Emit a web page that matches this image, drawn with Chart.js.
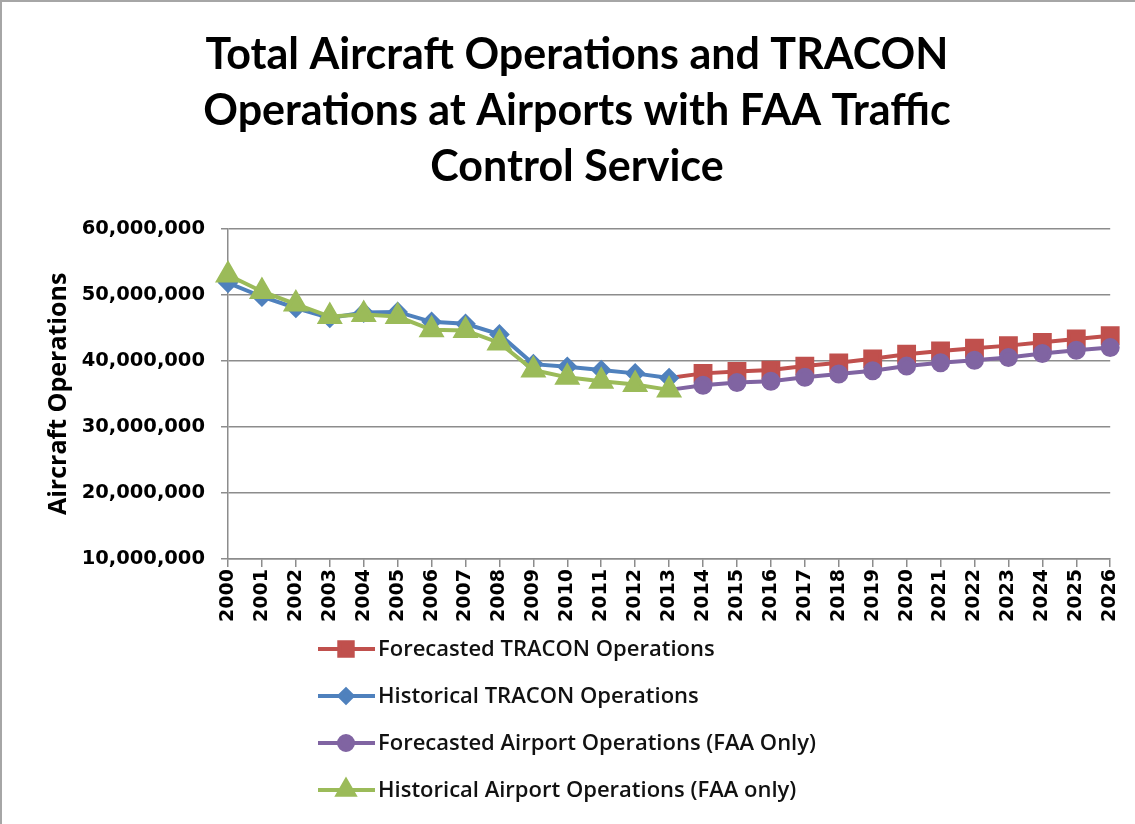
<!DOCTYPE html>
<html>
<head>
<meta charset="utf-8">
<script src="https://cdn.jsdelivr.net/npm/chart.js@4.4.1/dist/chart.umd.min.js"></script>
<style>
  html, body { margin: 0; padding: 0; background: #fff; }
  #wrap { width: 1135px; height: 824px; position: relative; box-sizing: border-box; border-top: 2px solid #a6a6a6; border-left: 2px solid #a6a6a6; }
  canvas { position: absolute; left: -2px; top: -2px; }
</style>
</head>
<body>
<div id="wrap"><canvas id="chart-ops" width="1135" height="824"></canvas></div>
<script>
/* data */
var years = ['2000','2001','2002','2003','2004','2005','2006','2007','2008','2009','2010','2011','2012','2013',
             '2014','2015','2016','2017','2018','2019','2020','2021','2022','2023','2024','2025','2026'];
var forecastTracon = [null,null,null,null,null,null,null,null,null,null,null,null,null,37400000,
                      38100000,38400000,38600000,39200000,39700000,40300000,41000000,41500000,41900000,42300000,42800000,43300000,43800000];
var historicalTracon = [51800000,49700000,48000000,46500000,47300000,47400000,45900000,45600000,44000000,39500000,39100000,38600000,38100000,37400000,
                        null,null,null,null,null,null,null,null,null,null,null,null,null];
var forecastAirport = [null,null,null,null,null,null,null,null,null,null,null,null,null,35600000,
                       36300000,36700000,36900000,37500000,38000000,38500000,39200000,39700000,40100000,40500000,41100000,41600000,42000000];
var historicalAirport = [53000000,50500000,48600000,46700000,47000000,46700000,44700000,44600000,42700000,38600000,37500000,36900000,36400000,35600000,
                         null,null,null,null,null,null,null,null,null,null,null,null,null];
var seriesNames = ['Forecasted TRACON Operations', 'Historical TRACON Operations',
                   'Forecasted Airport Operations (FAA Only)', 'Historical Airport Operations (FAA only)'];
var yTicks = [10000000, 20000000, 30000000, 40000000, 50000000, 60000000];

var gridColor = '#8c8c8c';

// hide the marker on the join point of the forecast lines
function forecastRadius(r) {
    return function (ctx) { return ctx.dataIndex === 13 ? 0 : r; };
}

/* vertical legend drawn under the axis */
var stackedLegend = {
    id: 'stackedLegend',
    afterDraw: function (chart) {
        var ctx = chart.ctx;
        var top = chart.chartArea.bottom + 90;
        ctx.save();
        chart.data.datasets.forEach(function (ds, i) {
            var y = top + i * 47;
            ctx.strokeStyle = ds.borderColor;
            ctx.fillStyle = ds.backgroundColor;
            ctx.lineWidth = ds.borderWidth;
            ctx.beginPath();
            ctx.moveTo(318, y);
            ctx.lineTo(375, y);
            ctx.stroke();
            Chart.helpers.drawPoint(ctx, {pointStyle: ds.pointStyle, radius: ds.legendRadius, rotation: 0, borderWidth: 1}, 346, y);
            ctx.fillStyle = '#111';
            ctx.font = '600 22px "Open Sans"';
            ctx.textBaseline = 'middle';
            ctx.textAlign = 'left';
            ctx.fillText(ds.label, 378, y + 1);
        });
        ctx.restore();
    }
};

var opsCanvas = document.getElementById('chart-ops').getContext('2d');
var opsData = {
    labels: years,
    datasets: [{
        label: seriesNames[0],
        data: forecastTracon,
        borderColor: '#C0504D',
        backgroundColor: '#C0504D',
        borderWidth: 4,
        pointStyle: 'rect',
        pointRadius: forecastRadius(10.5),
        legendRadius: 9.5,
        order: 3
    }, {
        label: seriesNames[1],
        data: historicalTracon,
        borderColor: '#4F81BD',
        backgroundColor: '#4F81BD',
        borderWidth: 4,
        pointStyle: 'rectRot',
        pointRadius: 7.5,
        legendRadius: 6.5,
        order: 2
    }, {
        label: seriesNames[2],
        data: forecastAirport,
        borderColor: '#8064A2',
        backgroundColor: '#8064A2',
        borderWidth: 4,
        pointStyle: 'circle',
        pointRadius: forecastRadius(7.5),
        legendRadius: 7,
        order: 1
    }, {
        label: seriesNames[3],
        data: historicalAirport,
        borderColor: '#9BBB59',
        backgroundColor: '#9BBB59',
        borderWidth: 4,
        pointStyle: 'triangle',
        pointRadius: 11,
        legendRadius: 9.5,
        order: 0
    }]
};

var opsOptions = {
    responsive: false,
    animation: false,
    layout: {
        padding: { left: 42, right: 23, top: 0, bottom: 195 }
    },
    elements: {
        line: { tension: 0 },
        point: { borderWidth: 1, hoverRadius: 8 }
    },
    plugins: {
        legend: { display: false },
        tooltip: { enabled: false },
        title: {
            display: true,
            text: ['Total Aircraft Operations and TRACON', 'Operations at Airports with FAA Traffic', 'Control Service'],
            color: '#000',
            font: { family: 'Lato', size: 43, weight: 'bold', lineHeight: 1.3 },
            padding: { top: 27, bottom: 34 }
        }
    },
    scales: {
        x: {
            offset: false,
            grid: { drawOnChartArea: false, drawTicks: true, tickLength: 8, color: gridColor, lineWidth: 1.5 },
            border: { display: true, color: gridColor, width: 1.5 },
            ticks: {
                minRotation: 90, maxRotation: 90, autoSkip: false, padding: 2,
                color: '#000',
                font: { family: 'DejaVu Sans', size: 19, weight: 'bold' }
            },
            afterFit: function (scale) { scale.height = 70; }
        },
        y: {
            min: 10000000,
            max: 60000000,
            afterBuildTicks: function (scale) {
                scale.ticks = yTicks.map(function (v) { return {value: v}; });
            },
            grid: { color: gridColor, lineWidth: 1.5, tickLength: 7 },
            border: { display: true, color: gridColor, width: 1.5 },
            ticks: {
                padding: 16,
                color: '#000',
                font: { family: 'DejaVu Sans', size: 19.5, weight: 'bold' },
                callback: function (v) { return Number(v).toLocaleString('en-US'); }
            },
            title: {
                display: true,
                text: 'Aircraft Operations',
                color: '#000',
                font: { family: 'Open Sans', size: 25, weight: 'bold' },
                padding: { top: 2, bottom: 0 }
            },
            afterFit: function (scale) { scale.width = 186; }
        }
    }
};

var opsChart = new Chart(opsCanvas, {
    type: 'line',
    data: opsData,
    options: opsOptions,
    plugins: [stackedLegend]
});
</script>
</body>
</html>
